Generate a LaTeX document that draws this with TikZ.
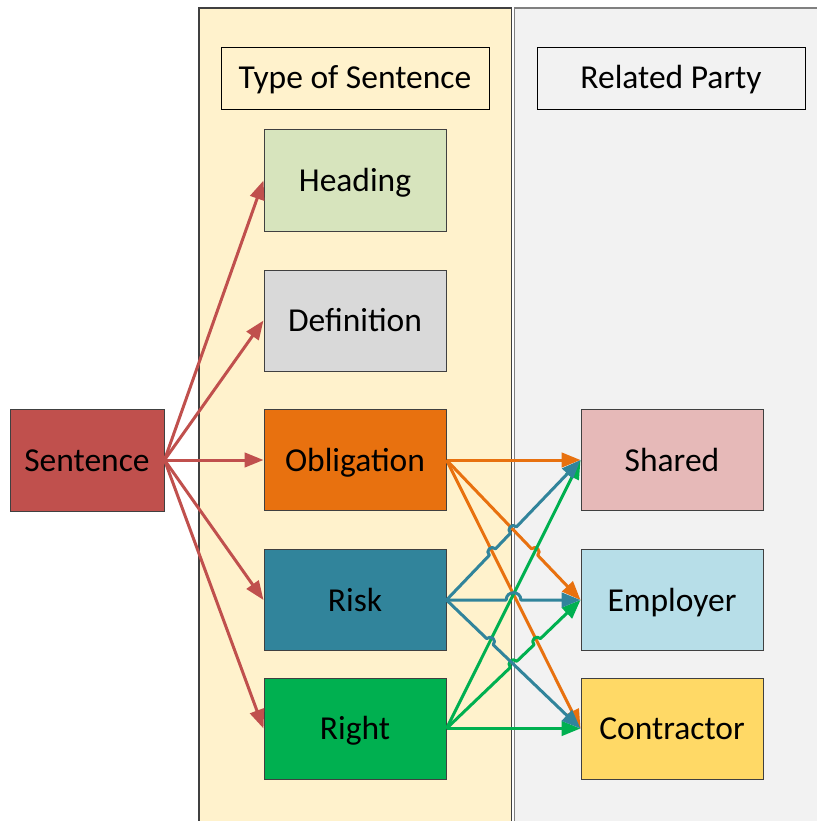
\documentclass[tikz,border=0pt]{standalone}
\usepackage{fontspec}
\setmainfont{Carlito}
\usetikzlibrary{arrows.meta,calc}

\definecolor{panelY}{HTML}{FFF2CC}
\definecolor{panelG}{HTML}{F2F2F2}
\definecolor{cSent}{HTML}{C0504D}
\definecolor{cHead}{HTML}{D7E4BD}
\definecolor{cDef}{HTML}{D9D9D9}
\definecolor{cObl}{HTML}{E8710F}
\definecolor{cRisk}{HTML}{31849B}
\definecolor{cRight}{HTML}{00B050}
\definecolor{cShared}{HTML}{E6B9B8}
\definecolor{cEmp}{HTML}{B7DEE8}
\definecolor{cCon}{HTML}{FFD966}
\definecolor{edge}{HTML}{404040}

\tikzset{
  label font/.style={font=\fontsize{33.5}{40}\selectfont,
    text height=22pt, text depth=0pt},
  box/.style={draw=edge, line width=1pt, inner sep=0pt,
    minimum width=182pt, minimum height=101pt, label font},
  titlebox/.style={draw=black, line width=0.9pt, inner sep=0pt,
    minimum width=268pt, minimum height=62pt, label font},
  link/.style={line width=3pt, line join=round,
    -{Triangle[length=19pt,width=14.5pt]}},
  hop/.style={bend left=90, looseness=1.7},
}

\begin{document}
\begin{tikzpicture}[x=1pt,y=-1pt]
\useasboundingbox (0,0) rectangle (816,821);

% column panels
\fill[panelY] (199,8) rectangle (511.5,830);
\fill[panelG] (514.5,8) rectangle (830,830);
\draw[edge, line width=1.2pt] (199,830) -- (199,8) -- (511.5,8) -- (511.5,830);
\draw[gray, line width=1.5pt] (514.5,830) -- (514.5,8) -- (830,8);

% column headings
\node[titlebox, fill=panelY] (tos) at (355,78) {Type of Sentence};
\node[titlebox, fill=panelG] (rp)  at (671,78) {Related Party};

% nodes
\node[box, fill=cSent, minimum width=154pt, minimum height=102pt] (sen) at (87,460) {Sentence};
\node[box, fill=cHead]  (head) at (355,180.5) {Heading};
\node[box, fill=cDef]   (def)  at (355,320.5) {Definition};
\node[box, fill=cObl]   (obl)  at (355,460) {Obligation};
\node[box, fill=cRisk]  (risk) at (355,600) {Risk};
\node[box, fill=cRight] (rgt)  at (355,728.5) {Right};
\node[box, fill=cShared] (sh)  at (672,460) {Shared};
\node[box, fill=cEmp]   (emp)  at (672,600) {Employer};
\node[box, fill=cCon]   (con)  at (672,728.5) {Contractor};

% sentence to its types
\foreach \t in {head,def,obl,risk,rgt}
  \draw[link, cSent] (sen.east) -- (\t.west);

% crossing points where a connector hops over another
\coordinate (xRO3) at (intersection of risk.east--sh.west and obl.east--con.west);
\coordinate (xRO2) at (intersection of risk.east--sh.west and obl.east--emp.west);
\coordinate (xOG)  at (intersection of obl.east--emp.west and rgt.east--sh.west);
\coordinate (xEG)  at (intersection of risk.east--emp.west and rgt.east--sh.west);
\coordinate (xEO)  at (intersection of risk.east--emp.west and obl.east--con.west);
\coordinate (xCG)  at (intersection of risk.east--con.west and rgt.east--sh.west);
\coordinate (xGR)  at (intersection of rgt.east--emp.west and risk.east--con.west);
\coordinate (xGO)  at (intersection of rgt.east--emp.west and obl.east--con.west);

% obligation
\draw[link, cObl] (obl.east) -- (sh.west);
\draw[link, cObl] (obl.east) -- ($(xOG)!4.5pt!(obl.east)$) to[hop] ($(xOG)!4.5pt!(emp.west)$) -- (emp.west);
\draw[link, cObl] (obl.east) -- (con.west);

% right
\draw[link, cRight] (rgt.east) -- (sh.west);
\draw[link, cRight] (rgt.east) -- ($(xGR)!4.5pt!(rgt.east)$) to[hop] ($(xGR)!4.5pt!(emp.west)$)
  -- ($(xGO)!4.5pt!(rgt.east)$) to[hop] ($(xGO)!4.5pt!(emp.west)$) -- (emp.west);
\draw[link, cRight] (rgt.east) -- (con.west);

% risk
\draw[link, cRisk] (risk.east) -- ($(xRO3)!4.5pt!(risk.east)$) to[hop] ($(xRO3)!4.5pt!(sh.west)$)
  -- ($(xRO2)!4.5pt!(risk.east)$) to[hop] ($(xRO2)!4.5pt!(sh.west)$) -- (sh.west);
\draw[link, cRisk] (risk.east) -- ($(xEG)!4.5pt!(risk.east)$) to[hop] ($(xEO)!4.5pt!(emp.west)$) -- (emp.west);
\draw[link, cRisk] (risk.east) -- ($(xCG)!4.5pt!(risk.east)$) to[hop] ($(xCG)!4.5pt!(con.west)$) -- (con.west);
\end{tikzpicture}
\end{document}
